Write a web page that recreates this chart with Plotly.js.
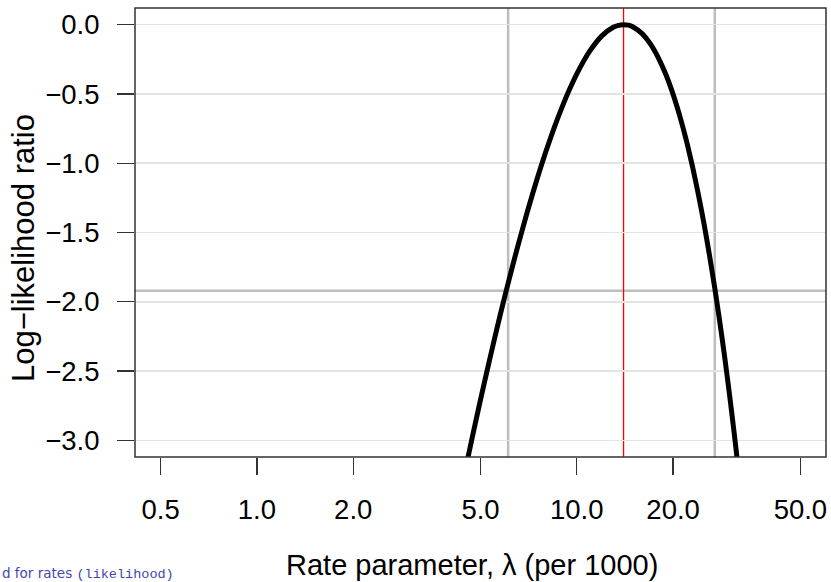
<!DOCTYPE html>
<html>
<head>
<meta charset="utf-8">
<script src="https://cdn.plot.ly/plotly-3.0.1.min.js"></script>
<style>html,body{margin:0;padding:0;background:#fff;}#chart{width:831px;height:582px;}</style>
</head>
<body>
<div id="chart"></div>
<script>
// Rate parameter (per 1000) and log-likelihood ratio
const rateValues = [4.4,4.6,4.8,5,5.25,5.5,5.75,6,6.5,7,7.5,8,8.5,9,9.5,10,11,12,13,13.5,14,14.5,15,16,17,18,19,20,21,22,23,24,25,26,27,28,29,30,31,32,33];
const llrValues  = [-3.302,-3.091,-2.893,-2.707,-2.491,-2.290,-2.104,-1.931,-1.621,-1.352,-1.119,-0.917,-0.743,-0.593,-0.465,-0.355,-0.188,-0.079,-0.019,-0.005,0,-0.004,-0.017,-0.065,-0.141,-0.241,-0.362,-0.503,-0.662,-0.836,-1.025,-1.227,-1.441,-1.667,-1.903,-2.148,-2.402,-2.665,-2.936,-3.213,-3.498];

const estimate = 14;
const ciLower = 6.1;
const ciUpper = 27.0;
const cutoff = -1.92;

const xTickVals = [0.5,1,2,5,10,20,50];
const xTickText = ["0.5","1.0","2.0","5.0","10.0","20.0","50.0"];
const yTickVals = [0,-0.5,-1,-1.5,-2,-2.5,-3];
const yTickText = ["0.0","\u22120.5","\u22121.0","\u22121.5","\u22122.0","\u22122.5","\u22123.0"];

const xLimits = [0.5, 50];
const yLimits = [-3, 0];

const lx = [Math.log10(xLimits[0]), Math.log10(xLimits[1])];
const dx = (lx[1]-lx[0])*0.04;
const dy = (yLimits[1]-yLimits[0])*0.04;

const family = "Liberation Sans, Arial, sans-serif";
const tickFont = {family: family, size: 27.5, color: "#000"};
const titleFont = {family: family, size: 29, color: "#000"};

const trace = {
  x: rateValues, y: llrValues, type: "scatter", mode: "lines",
  line: {color: "#000", width: 5, shape: "spline", smoothing: 0.6},
  hoverinfo: "skip", showlegend: false
};

const shapes = [
  {type:"line", xref:"x", yref:"paper", x0:ciLower, x1:ciLower, y0:0, y1:1, line:{color:"#bdbdbd", width:2.5}, layer:"below"},
  {type:"line", xref:"x", yref:"paper", x0:ciUpper, x1:ciUpper, y0:0, y1:1, line:{color:"#bdbdbd", width:2.5}, layer:"below"},
  {type:"line", xref:"paper", yref:"y", x0:0, x1:1, y0:cutoff, y1:cutoff, line:{color:"#bdbdbd", width:2.5}, layer:"below"},
  {type:"line", xref:"x", yref:"paper", x0:estimate, x1:estimate, y0:0, y1:1, line:{color:"#ff0000", width:1.3}, layer:"below"},
  {type:"rect", xref:"paper", yref:"paper", x0:0, x1:1, y0:0, y1:1, line:{color:"#333", width:1.5}, fillcolor:"rgba(0,0,0,0)", layer:"above"}
];

const W = 831, H = 582, L = 135, R = 5, T = 8, B = 125;
const pw = W-L-R, ph = H-T-B;
function px2x(p){ return (p-L)/pw; }
function py2y(p){ return 1-(p-T)/ph; }

const layout = {
  width: W, height: H,
  margin: {l:L, r:R, t:T, b:B, pad:0},
  paper_bgcolor: "#fff", plot_bgcolor: "#fff",
  font: tickFont,
  showlegend: false,
  xaxis: {
    type: "log", range: [lx[0]-dx, lx[1]+dx],
    tickmode: "array", tickvals: xTickVals, ticktext: xTickText,
    ticks: "outside", ticklen: 17, tickwidth: 1.3, tickcolor: "#333",
    showgrid: false, zeroline: false, showline: false,
    tickfont: tickFont, ticklabelstandoff: 11
  },
  yaxis: {
    range: [yLimits[0]-dy, yLimits[1]+dy],
    tickmode: "array", tickvals: yTickVals, ticktext: yTickText,
    ticks: "outside", ticklen: 17, tickwidth: 1.3, tickcolor: "#333",
    showgrid: true, gridcolor: "#e3e3e3", gridwidth: 1.5,
    zeroline: false, showline: false,
    tickfont: tickFont, ticklabelstandoff: 12
  },
  shapes: shapes,
  annotations: [
    {text: "Rate parameter, \u03bb (per 1000)", xref:"paper", yref:"paper",
     x: px2x(472), y: py2y(565), xanchor:"center", yanchor:"middle", showarrow:false, font: titleFont},
    {text: "Log\u2212likelihood ratio", xref:"paper", yref:"paper", textangle:-90,
     x: px2x(23), y: py2y(248), xanchor:"center", yanchor:"middle", showarrow:false, font: {family: family, size: 31, color: "#000"}},
    {text: "d for rates <span style='font-family:Liberation Mono,monospace'>(likelihood)</span>", xref:"paper", yref:"paper",
     x: px2x(0), y: py2y(573), xanchor:"left", yanchor:"middle", showarrow:false,
     font: {family:"DejaVu Sans, sans-serif", size: 13.5, color:"#4444b0"}}
  ]
};

Plotly.newPlot("chart", [trace], layout, {displayModeBar:false, staticPlot:true});
</script>
</body>
</html>
